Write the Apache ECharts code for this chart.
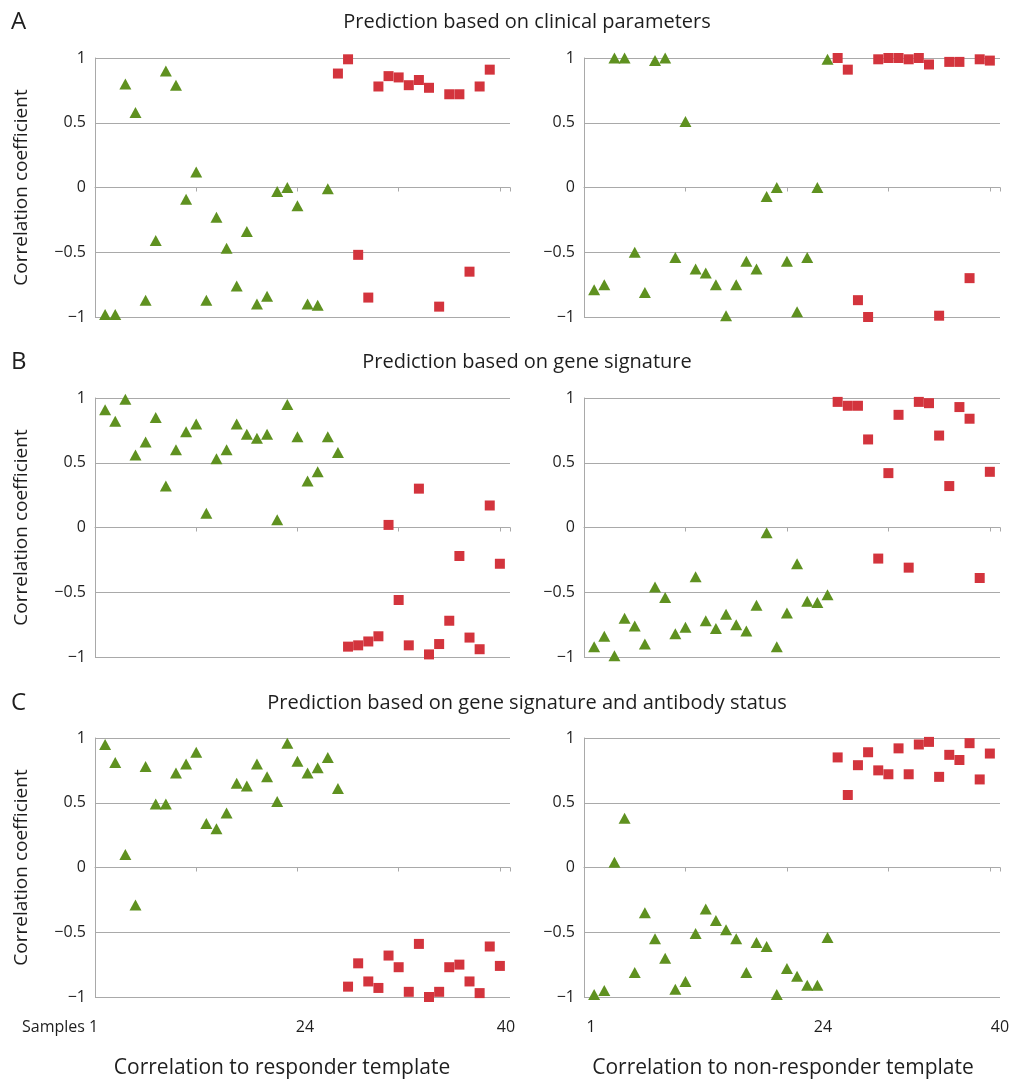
<!DOCTYPE html>
<html>
<head>
<meta charset="utf-8">
<script src="https://cdn.jsdelivr.net/npm/echarts@6/dist/echarts.min.js"></script>
<style>
  html, body { margin: 0; padding: 0; background: #fff; }
  #chart { width: 1014px; height: 1082px; }
</style>
</head>
<body>
<div id="chart"></div>
<script>
// panel titles
const panelTitles = [
  'Prediction based on clinical parameters',
  'Prediction based on gene signature',
  'Prediction based on gene signature and antibody status'
];
const panelLetters = ['A', 'B', 'C'];
const yTicks = [-1, -0.5, 0, 0.5, 1];
const bottomTitles = ['Correlation to responder template', 'Correlation to non-responder template'];

// A, left: triangles samples 1-23, squares 24-39
const aLeftTri = [-0.98, -0.98, 0.80, 0.58, -0.87, -0.41, 0.90, 0.79, -0.09, 0.12, -0.87, -0.23,
  -0.47, -0.76, -0.34, -0.90, -0.84, -0.03, 0.00, -0.14, -0.90, -0.91, -0.01];
const aLeftSq = [0.88, 0.99, -0.52, -0.85, 0.78, 0.86, 0.85, 0.79, 0.83, 0.77, -0.92, 0.72,
  0.72, -0.65, 0.78, 0.91];
// A, right: triangles 1-24, squares 25-40
const aRightTri = [-0.79, -0.75, 1.00, 1.00, -0.50, -0.81, 0.98, 1.00, -0.54, 0.51, -0.63, -0.66,
  -0.75, -0.99, -0.75, -0.57, -0.63, -0.07, 0.00, -0.57, -0.96, -0.54, 0.00, 0.99];
const aRightSq = [1.00, 0.91, -0.87, -1.00, 0.99, 1.00, 1.00, 0.99, 1.00, 0.95, -0.99, 0.97,
  0.97, -0.70, 0.99, 0.98];
// B
const bLeftTri = [0.91, 0.82, 0.99, 0.56, 0.66, 0.85, 0.32, 0.60, 0.74, 0.80, 0.11, 0.53,
  0.60, 0.80, 0.72, 0.69, 0.72, 0.06, 0.95, 0.70, 0.36, 0.43, 0.70, 0.58];
const bLeftSq = [-0.92, -0.91, -0.88, -0.84, 0.02, -0.56, -0.91, 0.30, -0.98, -0.90, -0.72,
  -0.22, -0.85, -0.94, 0.17, -0.28];
const bRightTri = [-0.92, -0.84, -0.99, -0.70, -0.76, -0.90, -0.46, -0.54, -0.82, -0.77, -0.38,
  -0.72, -0.78, -0.67, -0.75, -0.80, -0.60, -0.04, -0.92, -0.66, -0.28, -0.57, -0.58, -0.52];
const bRightSq = [0.97, 0.94, 0.94, 0.68, -0.24, 0.42, 0.87, -0.31, 0.97, 0.96, 0.71, 0.32,
  0.93, 0.84, -0.39, 0.43];
// C
const cLeftTri = [0.95, 0.81, 0.10, -0.29, 0.78, 0.49, 0.49, 0.73, 0.80, 0.89, 0.34, 0.30,
  0.42, 0.65, 0.63, 0.80, 0.70, 0.51, 0.96, 0.82, 0.73, 0.77, 0.85, 0.61];
const cLeftSq = [-0.92, -0.74, -0.88, -0.93, -0.68, -0.77, -0.96, -0.59, -1.00, -0.96, -0.77,
  -0.75, -0.88, -0.97, -0.61, -0.76];
const cRightTri = [-0.98, -0.95, 0.04, 0.38, -0.81, -0.35, -0.55, -0.70, -0.94, -0.88, -0.51,
  -0.32, -0.41, -0.48, -0.55, -0.81, -0.58, -0.61, -0.98, -0.78, -0.84, -0.91, -0.91, -0.54];
const cRightSq = [0.85, 0.56, 0.79, 0.89, 0.75, 0.72, 0.92, 0.72, 0.95, 0.97, 0.70, 0.87,
  0.83, 0.96, 0.68, 0.88];

const panels = [
  [aLeftTri, aLeftSq], [aRightTri, aRightSq],
  [bLeftTri, bLeftSq], [bRightTri, bRightSq],
  [cLeftTri, cLeftSq], [cRightTri, cRightSq]
];

const FONT = 'Open Sans';
const GREEN = '#5f9120';
const RED = '#d3343d';
const GRIDLINE = '#a9a9a9';
const TEXT = '#1e1e1e';
const colLeft = [95, 584];
const colWidth = [415, 416];
const rowTop = [58, 398, 738];
const rowHeight = 259;

const chart = echarts.init(document.getElementById('chart'));

const grids = [], xAxes = [], yAxes = [], series = [];
panels.forEach(([tri, sq], i) => {
  const row = Math.floor(i / 2), col = i % 2;
  grids.push({ left: colLeft[col], top: rowTop[row], width: colWidth[col], height: rowHeight });
  xAxes.push({
    type: 'value', gridIndex: i, min: 0, max: 41, interval: 10,
    axisLine: { onZero: true, lineStyle: { color: GRIDLINE } },
    axisTick: { show: true, length: 4, lineStyle: { color: GRIDLINE } },
    axisLabel: { show: false },
    splitLine: { show: false }
  });
  yAxes.push({
    type: 'value', gridIndex: i, min: -1, max: 1, interval: 0.5,
    name: col === 0 ? 'Correlation coefficient' : '',
    nameLocation: 'middle', nameGap: 64,
    nameTextStyle: { fontFamily: FONT, fontSize: 19, color: TEXT },
    axisLine: { show: true, lineStyle: { color: GRIDLINE } },
    axisTick: { show: false },
    axisLabel: {
      fontFamily: FONT, fontSize: 16, color: TEXT, margin: 9,
      formatter: v => yTicks.includes(v) ? String(v).replace('-', '\u2212') : ''
    },
    splitLine: { lineStyle: { color: GRIDLINE, width: 1 } }
  });
  const triStart = 1;
  const sqStart = tri.length + 1;
  series.push({
    type: 'scatter', xAxisIndex: i, yAxisIndex: i,
    symbol: 'triangle', symbolSize: [12, 11],
    itemStyle: { color: GREEN, opacity: 1 },
    data: tri.map((v, k) => [triStart + k, v])
  });
  series.push({
    type: 'scatter', xAxisIndex: i, yAxisIndex: i,
    symbol: 'rect', symbolSize: 10,
    itemStyle: { color: RED, opacity: 1 },
    data: sq.map((v, k) => [sqStart + k, v])
  });
});

const graphic = [];
panelTitles.forEach((t, r) => {
  const y = [22, 362, 703][r];
  graphic.push({ type: 'text', x: 527, y: y, style: { text: t, font: `20px "${FONT}"`, fill: TEXT, align: 'center', verticalAlign: 'middle' } });
  graphic.push({ type: 'text', x: 11, y: y, style: { text: panelLetters[r], font: `24px "${FONT}"`, fill: TEXT, align: 'left', verticalAlign: 'middle' } });
});
// sample labels under the bottom panels
[['Samples 1', 22, 'left'], ['24', 305, 'center'], ['40', 506, 'center'],
 ['1', 591, 'center'], ['24', 823, 'center'], ['40', 1000, 'center']].forEach(([s, x, a]) => {
  graphic.push({ type: 'text', x: x, y: 1027, style: { text: s, font: `16px "${FONT}"`, fill: TEXT, align: a, verticalAlign: 'middle' } });
});
bottomTitles.forEach((t, k) => {
  graphic.push({ type: 'text', x: [282, 783][k], y: 1068, style: { text: t, font: `21px "${FONT}"`, fill: TEXT, align: 'center', verticalAlign: 'middle' } });
});

chart.setOption({
  animation: false,
  grid: grids,
  xAxis: xAxes,
  yAxis: yAxes,
  series: series,
  graphic: graphic
});
</script>
</body>
</html>
